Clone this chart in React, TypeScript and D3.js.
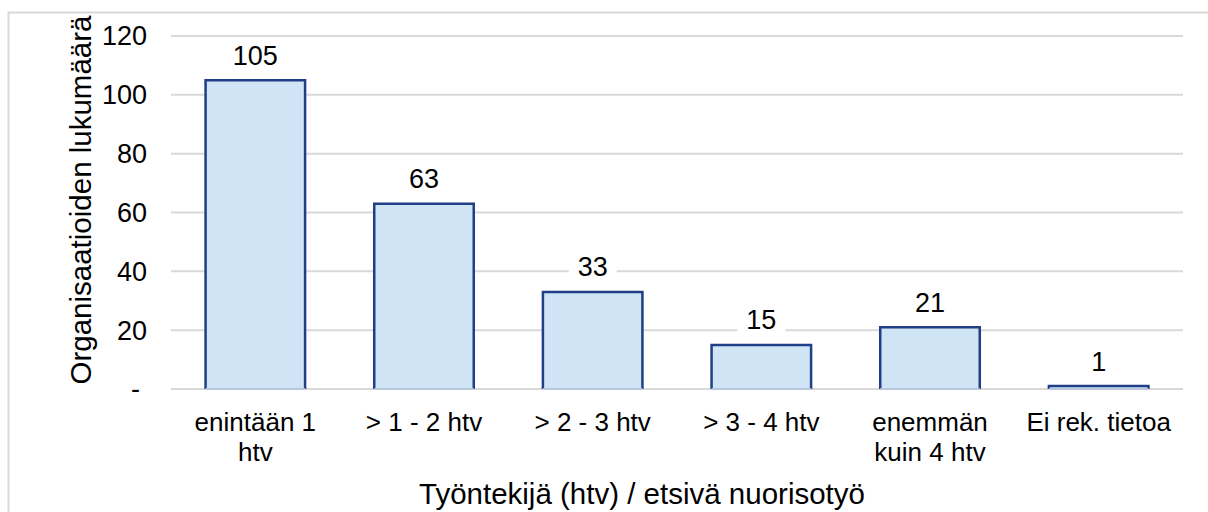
import React from 'react';
import { scaleBand, scaleLinear } from 'd3';

// data
const categories = [
  ['enintään 1', 'htv'],
  ['> 1 - 2 htv'],
  ['> 2 - 3 htv'],
  ['> 3 - 4 htv'],
  ['enemmän', 'kuin 4 htv'],
  ['Ei rek. tietoa'],
];
const values = [105, 63, 33, 15, 21, 1];
const yTicks = [0, 20, 40, 60, 80, 100, 120];
const yTickLabels = ['-', '20', '40', '60', '80', '100', '120'];

const W = 1208;
const H = 512;
const FONT = 'Liberation Sans, Arial, sans-serif';
const FS = 26; // category labels
const NFS = 27; // numbers
const TFS = 29.5; // axis titles

function App() {
  const x = scaleBand<number>()
    .domain(categories.map((d, i) => i))
    .range([171, 1183])
    .paddingInner(0.41)
    .paddingOuter(0.205);
  const y = scaleLinear().domain([0, 120]).range([389, 36]);

  return (
    <svg
      width={W}
      height={H}
      style={{ position: 'absolute', left: 0, top: 0, background: '#fff' }}
      fontFamily={FONT}
    >
      <rect x={8.5} y={12.5} width={1240} height={560} fill="#fff" stroke="#d9d9d9" strokeWidth={2} />

      {/* gridlines */}
      {yTicks.map((t) => (
        <line key={t} x1={171} x2={1183} y1={y(t)} y2={y(t)} stroke="#d9d9d9" strokeWidth={2} />
      ))}

      {/* y tick labels */}
      {yTicks.map((t, i) => (
        <text
          key={t}
          x={t === 0 ? 140 : 147}
          y={y(t)}
          dy="0.35em"
          textAnchor="end"
          fontSize={NFS}
          fill="#000"
        >
          {yTickLabels[i]}
        </text>
      ))}

      {/* bars */}
      {values.map((v, i) => {
        const x0 = x(i)!;
        const x1 = x0 + x.bandwidth();
        const yt = y(v);
        const yb = y(0);
        return (
          <g key={i}>
            <rect x={x0} y={yt} width={x.bandwidth()} height={yb - yt} fill="#cfe4f4" />
            <path
              d={`M${x0},${yb}V${yt}H${x1}V${yb}`}
              fill="none"
              stroke="#213f86"
              strokeWidth={2.5}
            />
            <line x1={x0} x2={x1} y1={yb} y2={yb} stroke="#b8c7de" strokeWidth={2} />
          </g>
        );
      })}

      {/* value labels with white boxes */}
      {values.map((v, i) => {
        const cx = x(i)! + x.bandwidth() / 2;
        const cy = y(v) - 25;
        const w = String(v).length * 15 + 18;
        return (
          <g key={i}>
            <rect x={cx - w / 2} y={cy - 16} width={w} height={32} fill="#fff" />
            <text x={cx} y={cy} dy="0.35em" textAnchor="middle" fontSize={NFS} fill="#000">
              {v}
            </text>
          </g>
        );
      })}

      {/* category labels */}
      {categories.map((lines, i) => (
        <text key={i} x={x(i)! + x.bandwidth() / 2} y={431} textAnchor="middle" fontSize={FS} fill="#000">
          {lines.map((l, j) => (
            <tspan key={j} x={x(i)! + x.bandwidth() / 2} dy={j === 0 ? 0 : 30}>
              {l}
            </tspan>
          ))}
        </text>
      ))}

      {/* axis titles */}
      <text
        transform="translate(81,200) rotate(-90)"
        dy="0.35em"
        textAnchor="middle"
        fontSize={TFS}
        fill="#000"
      >
        Organisaatioiden lukumäärä
      </text>
      <text x={642} y={494} dy="0.35em" textAnchor="middle" fontSize={TFS} fill="#000">
        Työntekijä (htv) / etsivä nuorisotyö
      </text>
    </svg>
  );
}

export default App;
